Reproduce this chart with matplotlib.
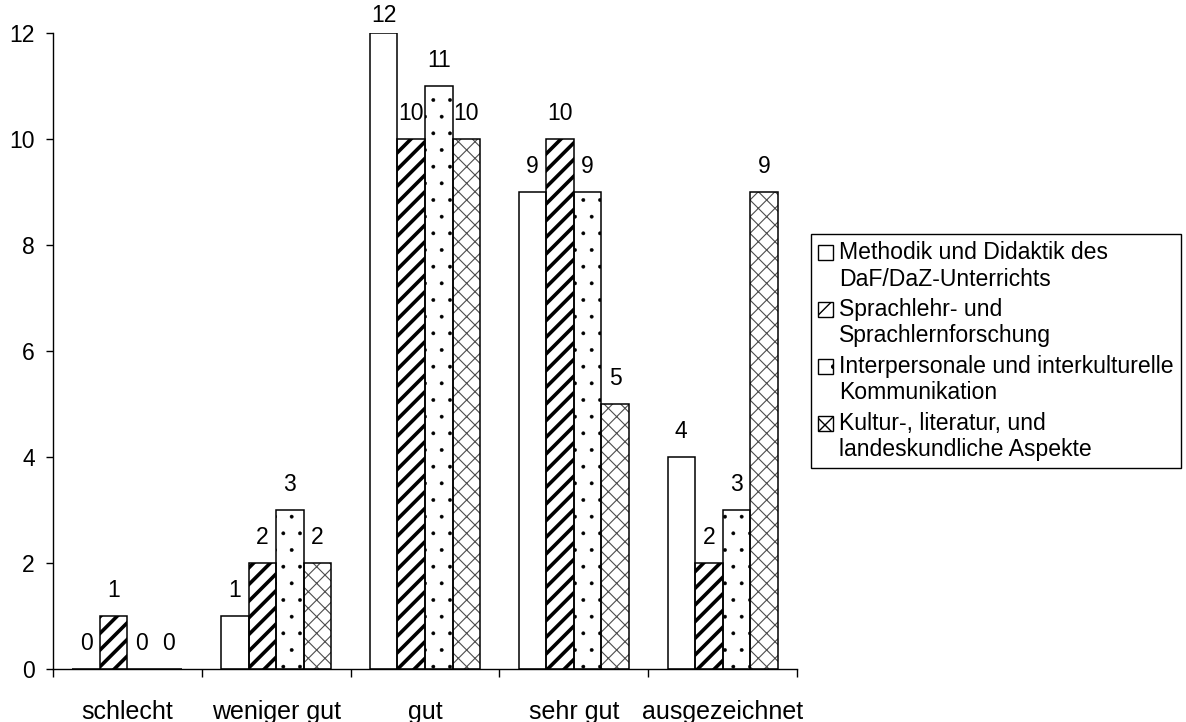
import matplotlib
matplotlib.use("Agg")
import matplotlib.pyplot as plt
from matplotlib.patches import Patch, Rectangle
from matplotlib.legend_handler import HandlerPatch
import numpy as np

# Kategorien und Werte
kategorien = ["schlecht", "weniger gut", "gut", "sehr gut", "ausgezeichnet"]
serien = [
    "Methodik und Didaktik des\nDaF/DaZ-Unterrichts",
    "Sprachlehr- und\nSprachlernforschung",
    "Interpersonale und interkulturelle\nKommunikation",
    "Kultur-, literatur, und\nlandeskundliche Aspekte",
]
methodik = [0, 1, 12, 9, 4]
sprachlehr = [1, 2, 10, 10, 2]
interpersonal = [0, 3, 11, 9, 3]
kultur = [0, 2, 10, 5, 9]

werte = [methodik, sprachlehr, interpersonal, kultur]
# Muster: (hatch, Farbe der Schraffur, Linienbreite der Schraffur)
muster = [("", "black", 1.0), ("//", "black", 2.6), (".", "black", 0.3), ("xx", "#4d4d4d", 0.8)]

plt.rcParams["font.family"] = ["Liberation Sans", "DejaVu Sans"]
fs = 16.5

fig = plt.figure(figsize=(11.86, 7.22), dpi=100)
ax = fig.add_axes([53 / 1186, 1 - 669 / 722, (797 - 53) / 1186, (669 - 33) / 722])

x = np.arange(len(kategorien))
w = 0.185
for i, vals in enumerate(werte):
    pos = x + (i - 1.5) * w
    hatch, hc, hlw = muster[i]
    plt.rcParams["hatch.linewidth"] = hlw
    # Schraffur zuerst, dann der schwarze Rand drueber
    ax.bar(pos, vals, w, color="white", edgecolor=hc, hatch=hatch, linewidth=0, zorder=2)
    ax.bar(pos, vals, w, fill=False, edgecolor="black", linewidth=1.1, zorder=3)
    for p, v in zip(pos, vals):
        off = 10 if v < 12 else 4   # oben am Rand etwas naeher ran, sonst abgeschnitten
        ax.annotate(str(v), (p, v), xytext=(0, off), textcoords="offset points",
                    ha="center", va="bottom", fontsize=fs)

ax.set_xlim(-0.5, len(kategorien) - 0.5)
ax.set_ylim(0, 12)
ax.set_yticks(range(0, 13, 2))
ax.set_xticks(x)
ax.set_xticklabels(kategorien)
ax.set_xticks(np.arange(-0.5, len(kategorien)), minor=True)
ax.tick_params(axis="x", which="major", length=0, pad=22, labelsize=18)
ax.tick_params(axis="x", which="minor", length=6, width=1, direction="out")
ax.tick_params(axis="y", length=5, width=1, pad=8, labelsize=fs)
for s in ["top", "right"]:
    ax.spines[s].set_visible(False)
for s in ["left", "bottom"]:
    ax.spines[s].set_linewidth(1)


# Kaestchen in der Legende auf Hoehe der ersten Zeile
def erste_zeile(legend, orig_handle, xdescent, ydescent, width, height, fontsize):
    return Rectangle((-xdescent, -ydescent + 0.62 * fontsize), width, height)


handles = []
for i in range(4):
    hatch, hc, hlw = muster[i]
    plt.rcParams["hatch.linewidth"] = min(max(hlw, 0.6), 1.6)
    handles.append(Patch(facecolor="white", edgecolor="black", hatch=hatch, linewidth=1))
plt.rcParams["hatch.linewidth"] = 1.0
leg = fig.legend(handles, serien, loc="upper left", bbox_to_anchor=(811 / 1186, 1 - 234 / 722),
                 fontsize=16.6, frameon=True, fancybox=False, edgecolor="black", framealpha=1,
                 handlelength=0.64, handleheight=0.64, handletextpad=0.28, labelspacing=0.32,
                 borderpad=0.3, borderaxespad=0,
                 handler_map={Patch: HandlerPatch(patch_func=erste_zeile)})
leg.get_frame().set_linewidth(1)

fig.savefig("out.png", dpi=100)
